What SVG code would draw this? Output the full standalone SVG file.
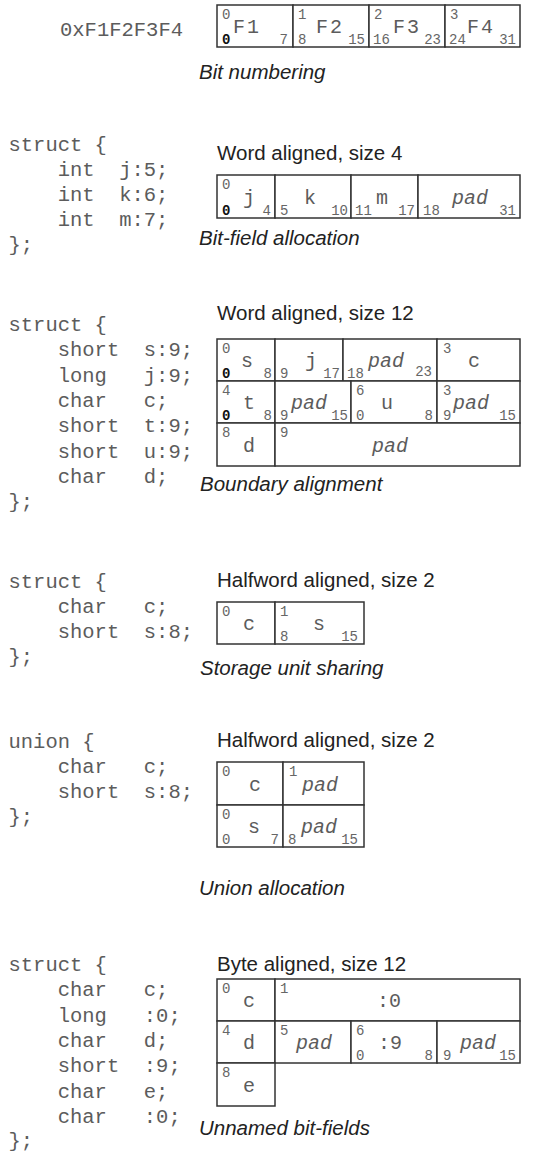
<svg xmlns="http://www.w3.org/2000/svg" width="534" height="1151" viewBox="0 0 534 1151">
<style>
.code{font-family:"Liberation Mono",monospace;font-size:20.5px;fill:#5c5c5c}
.lbl{font-family:"Liberation Mono",monospace;font-size:20px;fill:#5c5c5c}
.it{font-style:italic}
.num{font-family:"Liberation Mono",monospace;font-size:14px;fill:#666}
.b0{fill:#111;font-weight:bold}
.end{text-anchor:end}
.mid{text-anchor:middle}
.sans{font-family:"Liberation Sans",Arial,sans-serif;font-size:20.5px;fill:#222}
.cap{font-style:italic}
.box{fill:#fff;stroke:#333;stroke-width:1.5}
</style>
<rect width="534" height="1151" fill="#fff"/>
<g id="connectors"/>

<!-- Section 1 -->
<g id="sec1">
<text class="code" x="60" y="36">0xF1F2F3F4</text>
<g id="s1c1"><rect class="box" x="217" y="5" width="76" height="42"/>
<text class="num" x="222" y="19">0</text><text class="lbl" x="233" y="33" letter-spacing="2">F1</text>
<text class="num b0" x="222" y="44">0</text><text class="num end" x="288" y="44">7</text></g>
<g id="s1c2"><rect class="box" x="293" y="5" width="76" height="42"/>
<text class="num" x="298" y="19">1</text><text class="lbl" x="316" y="33" letter-spacing="2">F2</text>
<text class="num" x="298" y="44">8</text><text class="num end" x="365" y="44">15</text></g>
<g id="s1c3"><rect class="box" x="369" y="5" width="76" height="42"/>
<text class="num" x="374" y="19">2</text><text class="lbl" x="393" y="33" letter-spacing="2">F3</text>
<text class="num" x="373" y="44">16</text><text class="num end" x="441" y="44">23</text></g>
<g id="s1c4"><rect class="box" x="445" y="5" width="75" height="42"/>
<text class="num" x="450" y="19">3</text><text class="lbl" x="467" y="33" letter-spacing="2">F4</text>
<text class="num" x="449" y="44">24</text><text class="num end" x="516" y="44">31</text></g>
<text class="sans cap" x="199" y="79">Bit numbering</text>
</g>

<!-- Section 2 -->
<g id="sec2">
<text class="code" x="8.5" y="151">struct {</text>
<text class="code" y="176"><tspan x="57.7">int</tspan><tspan x="119.2">j:5;</tspan></text>
<text class="code" y="201"><tspan x="57.7">int</tspan><tspan x="119.2">k:6;</tspan></text>
<text class="code" y="226"><tspan x="57.7">int</tspan><tspan x="119.2">m:7;</tspan></text>
<text class="code" x="8.5" y="251">};</text>
<text class="sans" x="217" y="160">Word aligned, size 4</text>
<g id="s2j"><rect class="box" x="217" y="175" width="58" height="43"/>
<text class="num" x="222" y="189">0</text><text class="lbl" x="243" y="204">j</text>
<text class="num b0" x="222" y="215">0</text><text class="num end" x="271" y="215">4</text></g>
<g id="s2k"><rect class="box" x="275" y="175" width="76" height="43"/>
<text class="lbl" x="304" y="204">k</text>
<text class="num" x="280" y="215">5</text><text class="num end" x="348" y="215">10</text></g>
<g id="s2m"><rect class="box" x="351" y="175" width="67" height="43"/>
<text class="lbl" x="376" y="204">m</text>
<text class="num" x="355" y="215">11</text><text class="num end" x="415" y="215">17</text></g>
<g id="s2pad"><rect class="box" x="418" y="175" width="102" height="43"/>
<text class="lbl it" x="452" y="204">pad</text>
<text class="num" x="423" y="215">18</text><text class="num end" x="516" y="215">31</text></g>
<text class="sans cap" x="199" y="245">Bit-field allocation</text>
</g>

<!-- Section 3 -->
<g id="sec3">
<text class="code" x="8.5" y="331">struct {</text>
<text class="code" y="356"><tspan x="57.7">short</tspan><tspan x="143.8">s:9;</tspan></text>
<text class="code" y="382"><tspan x="57.7">long</tspan><tspan x="143.8">j:9;</tspan></text>
<text class="code" y="407"><tspan x="57.7">char</tspan><tspan x="143.8">c;</tspan></text>
<text class="code" y="432"><tspan x="57.7">short</tspan><tspan x="143.8">t:9;</tspan></text>
<text class="code" y="458"><tspan x="57.7">short</tspan><tspan x="143.8">u:9;</tspan></text>
<text class="code" y="483"><tspan x="57.7">char</tspan><tspan x="143.8">d;</tspan></text>
<text class="code" x="8.5" y="508">};</text>
<text class="sans" x="217" y="320">Word aligned, size 12</text>
<g id="s3s"><rect class="box" x="217" y="339" width="58" height="42"/>
<text class="num" x="222" y="353">0</text><text class="lbl" x="241" y="367">s</text>
<text class="num b0" x="222" y="378">0</text><text class="num end" x="272" y="378">8</text></g>
<g id="s3j"><rect class="box" x="275" y="339" width="68" height="42"/>
<text class="lbl" x="305" y="367">j</text>
<text class="num" x="280" y="378">9</text><text class="num end" x="340" y="378">17</text></g>
<g id="s3pad1"><rect class="box" x="343" y="339" width="94" height="42"/>
<text class="lbl it" x="368" y="367">pad</text>
<text class="num" x="347" y="378">18</text><text class="num end" x="432" y="376">23</text></g>
<g id="s3c"><rect class="box" x="437" y="339" width="83" height="42"/>
<text class="num" x="443" y="353">3</text><text class="lbl" x="468" y="367">c</text></g>
<g id="s3t"><rect class="box" x="217" y="381" width="58" height="42"/>
<text class="num" x="222" y="395">4</text><text class="lbl" x="243" y="409">t</text>
<text class="num b0" x="222" y="420">0</text><text class="num end" x="272" y="420">8</text></g>
<g id="s3pad2"><rect class="box" x="275" y="381" width="76" height="42"/>
<text class="lbl it" x="291" y="409">pad</text>
<text class="num" x="280" y="420">9</text><text class="num end" x="348" y="420">15</text></g>
<g id="s3u"><rect class="box" x="351" y="381" width="86" height="42"/>
<text class="num" x="356" y="395">6</text><text class="lbl" x="381" y="409">u</text>
<text class="num" x="356" y="420">0</text><text class="num end" x="433" y="420">8</text></g>
<g id="s3pad3"><rect class="box" x="437" y="381" width="83" height="42"/>
<text class="num" x="443" y="395">3</text><text class="lbl it" x="453" y="409">pad</text>
<text class="num" x="443" y="420">9</text><text class="num end" x="516" y="420">15</text></g>
<g id="s3d"><rect class="box" x="217" y="423" width="58" height="43"/>
<text class="num" x="222" y="437">8</text><text class="lbl" x="243" y="452">d</text></g>
<g id="s3pad4"><rect class="box" x="275" y="423" width="245" height="43"/>
<text class="num" x="280" y="437">9</text><text class="lbl it mid" x="390" y="452">pad</text></g>
<text class="sans cap" x="200" y="491">Boundary alignment</text>
</g>

<!-- Section 4 -->
<g id="sec4">
<text class="code" x="8.5" y="588">struct {</text>
<text class="code" y="613"><tspan x="57.7">char</tspan><tspan x="143.8">c;</tspan></text>
<text class="code" y="638"><tspan x="57.7">short</tspan><tspan x="143.8">s:8;</tspan></text>
<text class="code" x="8.5" y="663">};</text>
<text class="sans" x="217" y="587">Halfword aligned, size 2</text>
<g id="s4c"><rect class="box" x="217" y="602" width="58" height="42"/>
<text class="num" x="222" y="616">0</text><text class="lbl" x="243" y="630">c</text></g>
<g id="s4s"><rect class="box" x="275" y="602" width="89" height="42"/>
<text class="num" x="280" y="616">1</text><text class="lbl" x="313" y="630">s</text>
<text class="num" x="280" y="641">8</text><text class="num end" x="358" y="641">15</text></g>
<text class="sans cap" x="200" y="675">Storage unit sharing</text>
</g>

<!-- Section 5 -->
<g id="sec5">
<text class="code" x="8.5" y="748">union {</text>
<text class="code" y="773"><tspan x="57.7">char</tspan><tspan x="143.8">c;</tspan></text>
<text class="code" y="798"><tspan x="57.7">short</tspan><tspan x="143.8">s:8;</tspan></text>
<text class="code" x="8.5" y="823">};</text>
<text class="sans" x="217" y="747">Halfword aligned, size 2</text>
<g id="s5c"><rect class="box" x="217" y="762" width="66" height="43"/>
<text class="num" x="222" y="776">0</text><text class="lbl" x="249" y="791">c</text></g>
<g id="s5pad1"><rect class="box" x="283" y="762" width="81" height="43"/>
<text class="num" x="289" y="776">1</text><text class="lbl it" x="302" y="791">pad</text></g>
<g id="s5s"><rect class="box" x="217" y="805" width="66" height="42"/>
<text class="num" x="222" y="819">0</text><text class="lbl" x="248" y="833">s</text>
<text class="num" x="222" y="844">0</text><text class="num end" x="279" y="844">7</text></g>
<g id="s5pad2"><rect class="box" x="283" y="805" width="81" height="42"/>
<text class="lbl it" x="301" y="833">pad</text>
<text class="num" x="288" y="844">8</text><text class="num end" x="358" y="844">15</text></g>
<text class="sans cap" x="199" y="895">Union allocation</text>
</g>

<!-- Section 6 -->
<g id="sec6">
<text class="code" x="8.5" y="971">struct {</text>
<text class="code" y="996"><tspan x="57.7">char</tspan><tspan x="143.8">c;</tspan></text>
<text class="code" y="1022"><tspan x="57.7">long</tspan><tspan x="143.8">:0;</tspan></text>
<text class="code" y="1047"><tspan x="57.7">char</tspan><tspan x="143.8">d;</tspan></text>
<text class="code" y="1072"><tspan x="57.7">short</tspan><tspan x="143.8">:9;</tspan></text>
<text class="code" y="1098"><tspan x="57.7">char</tspan><tspan x="143.8">e;</tspan></text>
<text class="code" y="1123"><tspan x="57.7">char</tspan><tspan x="143.8">:0;</tspan></text>
<text class="code" x="8.5" y="1147">};</text>
<text class="sans" x="217" y="971">Byte aligned, size 12</text>
<g id="s6c"><rect class="box" x="217" y="979" width="58" height="42"/>
<text class="num" x="222" y="993">0</text><text class="lbl" x="243" y="1007">c</text></g>
<g id="s6z0"><rect class="box" x="275" y="979" width="245" height="42"/>
<text class="num" x="280" y="993">1</text><text class="lbl" x="377" y="1007">:0</text></g>
<g id="s6d"><rect class="box" x="217" y="1021" width="58" height="42"/>
<text class="num" x="222" y="1035">4</text><text class="lbl" x="243" y="1049">d</text></g>
<g id="s6pad1"><rect class="box" x="275" y="1021" width="76" height="42"/>
<text class="num" x="280" y="1035">5</text><text class="lbl it" x="296" y="1049">pad</text></g>
<g id="s6z9"><rect class="box" x="351" y="1021" width="86" height="42"/>
<text class="num" x="356" y="1035">6</text><text class="lbl" x="378" y="1049">:9</text>
<text class="num" x="356" y="1060">0</text><text class="num end" x="433" y="1060">8</text></g>
<g id="s6pad2"><rect class="box" x="437" y="1021" width="83" height="42"/>
<text class="lbl it" x="460" y="1049">pad</text>
<text class="num" x="443" y="1060">9</text><text class="num end" x="516" y="1060">15</text></g>
<g id="s6e"><rect class="box" x="217" y="1063" width="58" height="43"/>
<text class="num" x="222" y="1077">8</text><text class="lbl" x="243" y="1092">e</text></g>
<text class="sans cap" x="199" y="1135">Unnamed bit-fields</text>
</g>
</svg>
